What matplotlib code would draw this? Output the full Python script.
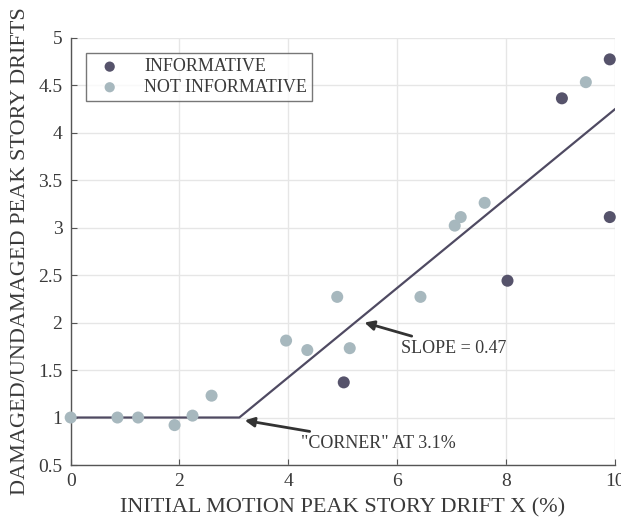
import matplotlib
matplotlib.use("Agg")
import matplotlib.pyplot as plt

inf_x = [5.02, 8.03, 9.03, 9.91, 9.91]
inf_y = [1.37, 2.44, 4.36, 4.77, 3.11]
not_x = [0.0, 0.86, 1.24, 1.91, 2.24, 2.59, 3.96, 4.35, 4.90, 5.13, 6.43, 7.06, 7.17, 7.61, 9.47]
not_y = [1.0, 1.0, 1.0, 0.92, 1.02, 1.23, 1.81, 1.71, 2.27, 1.73, 2.27, 3.02, 3.11, 3.26, 4.53]
corner = 3.1
slope = 0.47
fit_x = [0, corner, 10]
fit_y = [1.0, 1.0, 1.0 + slope * (10 - corner)]

plt.rcParams['font.family'] = ['Liberation Serif', 'DejaVu Serif']
fig = plt.figure(figsize=(6.21, 5.19), dpi=100)
ax = fig.add_axes([0.1138, 0.104, 0.876, 0.8237])

dark = '#56536b'
light = '#a7b8be'
txt = '#3a3a3a'

ax.plot(fit_x, fit_y, color='#4f4a62', lw=1.6, zorder=2)
ax.scatter(inf_x, inf_y, s=75, color=dark, label='INFORMATIVE', zorder=3, clip_on=False, edgecolors='none')
ax.scatter(not_x, not_y, s=75, color=light, label='NOT INFORMATIVE', zorder=3, clip_on=False, edgecolors='none')

ax.set_xlim(0, 10)
ax.set_ylim(0.5, 5)
ax.set_xticks([0, 2, 4, 6, 8, 10])
ax.set_yticks([0.5, 1, 1.5, 2, 2.5, 3, 3.5, 4, 4.5, 5])
ax.set_yticklabels(['0.5', '1', '1.5', '2', '2.5', '3', '3.5', '4', '4.5', '5'])
ax.grid(True, color='#e6e6e6', lw=1)
ax.set_axisbelow(True)
for s in ['top', 'right']:
    ax.spines[s].set_visible(False)
for s in ['left', 'bottom']:
    ax.spines[s].set_color('#555555')
    ax.spines[s].set_linewidth(1)
ax.tick_params(direction='in', length=4, colors='#555555', labelcolor=txt, labelsize=14, pad=6)

ax.set_xlabel('INITIAL MOTION PEAK STORY DRIFT X (%)', fontsize=16, color=txt, labelpad=6)
ax.set_ylabel('DAMAGED/UNDAMAGED PEAK STORY DRIFTS', fontsize=16, color=txt, labelpad=6)

ax.annotate('SLOPE = 0.47', xy=(5.40, 2.0), xytext=(6.07, 1.73),
            fontsize=13, color=txt, va='center', ha='left',
            arrowprops=dict(arrowstyle='-|>', color='#333333', lw=2, shrinkA=2, shrinkB=0, mutation_scale=14))
ax.annotate('"CORNER" AT 3.1%', xy=(3.2, 0.97), xytext=(4.24, 0.73),
            fontsize=13, color=txt, va='center', ha='left',
            arrowprops=dict(arrowstyle='-|>', color='#333333', lw=2, shrinkA=2, shrinkB=0, mutation_scale=14))

leg = ax.legend(loc='upper left', bbox_to_anchor=(0.012, 0.985), fontsize=13, frameon=True,
                fancybox=False, edgecolor='#555555', borderpad=0.3, handletextpad=0.9,
                labelspacing=0.2, handlelength=2.0, markerscale=0.85)
leg.get_frame().set_linewidth(1)
for t in leg.get_texts():
    t.set_color(txt)

fig.savefig('out.png', dpi=100)
